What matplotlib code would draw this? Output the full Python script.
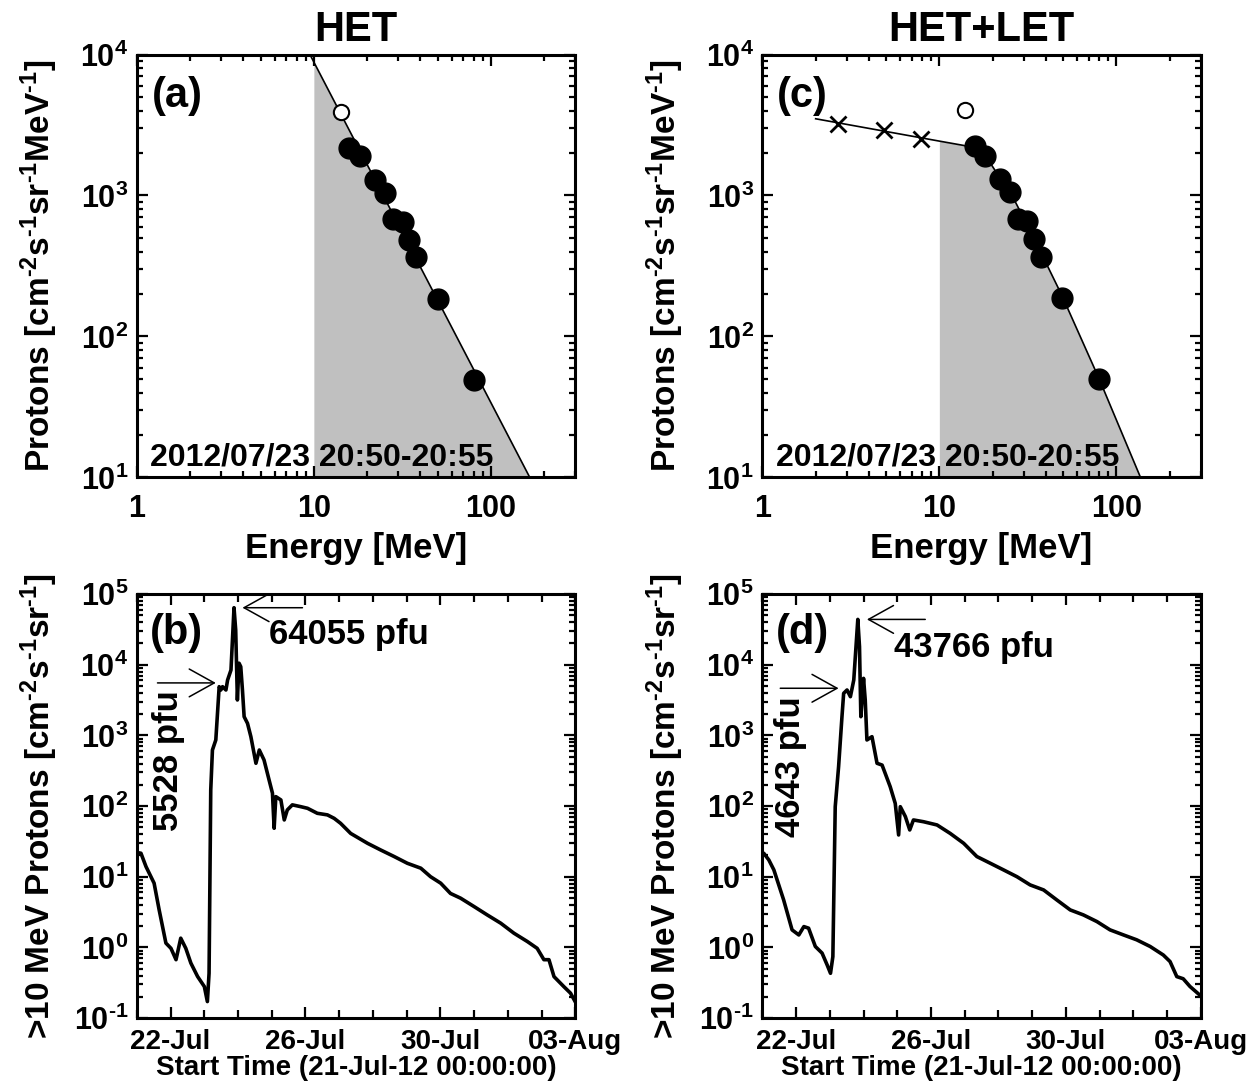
import numpy as np
import matplotlib
matplotlib.use('Agg')
import matplotlib.pyplot as plt
from matplotlib.ticker import LogLocator, FixedLocator, FuncFormatter, NullFormatter, MultipleLocator

plt.rcParams['font.family'] = ['Liberation Sans', 'DejaVu Sans']
plt.rcParams['font.weight'] = 'bold'
plt.rcParams['axes.labelweight'] = 'bold'
plt.rcParams['axes.titleweight'] = 'bold'
plt.rcParams['mathtext.fontset'] = 'custom'
plt.rcParams['mathtext.rm'] = 'Liberation Sans:bold'
plt.rcParams['mathtext.bf'] = 'Liberation Sans:bold'
plt.rcParams['mathtext.it'] = 'Liberation Sans:bold:italic'
plt.rcParams['mathtext.default'] = 'bf'

HY = '\u2010'  # short hyphen for exponents, like the original plot

# ---- spectra (a) HET ----
het_E = [15.8, 18.2, 22.3, 25.3, 28.1, 32.0, 34.6, 38.0, 50.0, 80.5]
het_J = [2180, 1890, 1290, 1040, 676, 647, 480, 365, 185, 48.7]
het_open_E = [14.2]
het_open_J = [3900]
fit_a_E = [9.5, 166.0]
fit_a_J = [1.0e4, 10.0]
fill_a_E = [10.0, 166.0]
fill_a_J = [8840, 10.0]

# ---- spectra (c) HET+LET ----
let_E = [2.66, 4.89, 7.88]
let_J = [3240, 2890, 2520]
hl_E = [16.0, 18.0, 22.1, 25.2, 27.7, 31.3, 34.4, 37.5, 49.3, 79.4]
hl_J = [2240, 1920, 1310, 1050, 684, 658, 488, 367, 188, 49.5]
hl_open_E = [14.0]
hl_open_J = [4010]
fit_c_E = [2.0, 10.0, 13.7, 16.0, 19.4, 22.0, 26.3, 35.0, 49.3, 80.0, 137.0]
fit_c_J = [3500, 2430, 2265, 2150, 1700, 1330, 950, 470, 195, 50, 10]

# ---- >10 MeV integral flux, days since 21-Jul-12 00:00 ----
days_b = [0.0, 0.12, 0.27, 0.51, 0.66, 0.86, 1.01, 1.16, 1.30, 1.45, 1.60, 1.80, 2.00,
          2.09, 2.14, 2.19, 2.24, 2.34, 2.44, 2.49, 2.54, 2.64, 2.69, 2.79, 2.88, 2.93,
          2.98, 3.03, 3.08, 3.13, 3.18, 3.28, 3.38, 3.53, 3.63, 3.77, 3.92, 4.02, 4.07,
          4.12, 4.27, 4.37, 4.46, 4.61, 4.86, 5.06, 5.35, 5.65, 5.85, 6.04, 6.34, 6.84,
          7.23, 7.63, 8.02, 8.42, 8.71, 9.01, 9.30, 9.60, 10.0, 10.39, 10.79, 11.18,
          11.58, 11.87, 12.07, 12.22, 12.37, 12.66, 12.86, 13.0]
flux_b = [22, 21.5, 13.9, 8.1, 3.39, 1.15, 0.97, 0.67, 1.35, 0.97, 0.60, 0.387, 0.279,
          0.171, 0.43, 169, 621, 861, 4890, 4390, 4890, 4390, 6080, 8410, 64055, 31000,
          3170, 10500, 9370, 4390, 1840, 1480, 959, 403, 621, 449, 234, 152, 48.5,
          136, 122, 63.6, 88, 104, 98, 93, 79, 75, 67, 57, 41, 29.7,
          23.9, 19.3, 15.5, 13.2, 10.0, 8.1, 5.8, 4.97, 3.78, 2.88, 2.2, 1.59,
          1.21, 0.97, 0.67, 0.67, 0.386, 0.279, 0.225, 0.17]

days_d = [0.0, 0.04, 0.19, 0.34, 0.63, 0.88, 1.08, 1.23, 1.37, 1.57, 1.77, 1.92, 2.02,
          2.09, 2.16, 2.26, 2.36, 2.41, 2.51, 2.61, 2.71, 2.83, 2.88, 2.92, 3.00, 3.05,
          3.10, 3.25, 3.40, 3.55, 3.79, 3.94, 4.04, 4.09, 4.24, 4.37, 4.48, 4.78, 5.18,
          5.57, 5.97, 6.36, 6.76, 7.15, 7.55, 7.94, 8.34, 8.73, 9.13, 9.52, 9.92, 10.31,
          10.71, 11.10, 11.50, 11.89, 12.09, 12.29, 12.48, 12.68, 12.98]
flux_d = [20, 21.5, 17.3, 12.5, 4.7, 1.77, 1.50, 1.97, 1.87, 1.03, 0.83, 0.565, 0.43,
          0.74, 98, 361, 1840, 3940, 4390, 3530, 6080, 43766, 18000, 1840, 6410, 3170,
          861, 959, 403, 380, 188, 109, 39, 98, 71, 45.9, 63.6, 60, 54,
          41, 29.7, 19.3, 15.5, 12.5, 10.0, 7.66, 6.5, 4.7, 3.39, 2.88, 2.32, 1.77,
          1.50, 1.28, 1.03, 0.78, 0.63, 0.386, 0.36, 0.28, 0.21]

date_ticks = [1, 5, 9, 13]
date_labels = ['22-Jul', '26-Jul', '30-Jul', '03-Aug']

GRAY = '#c0c0c0'


def pow10_label(v, pos):
    n = int(round(np.log10(v)))
    return r'$10^{%s}$' % str(n).replace('-', HY)


def style_axis(ax):
    for s in ax.spines.values():
        s.set_linewidth(2.2)
    ax.tick_params(which='both', direction='in', top=True, right=True, width=1.6, labelsize=22)
    ax.tick_params(which='major', length=8)
    ax.tick_params(which='minor', length=4)
    ax.tick_params(axis='y', which='both', pad=6)


def spectrum_axis(ax):
    ax.set_xscale('log')
    ax.set_yscale('log')
    ax.set_xlim(1, 300)
    ax.set_ylim(10, 1e4)
    ax.xaxis.set_major_locator(FixedLocator([1, 10, 100]))
    ax.xaxis.set_minor_locator(LogLocator(base=10, subs=np.arange(2, 10)))
    ax.xaxis.set_major_formatter(FuncFormatter(lambda v, p: '%d' % v))
    ax.xaxis.set_minor_formatter(NullFormatter())
    ax.yaxis.set_major_locator(FixedLocator([10, 100, 1000, 10000]))
    ax.yaxis.set_minor_locator(LogLocator(base=10, subs=np.arange(2, 10)))
    ax.yaxis.set_major_formatter(FuncFormatter(pow10_label))
    ax.yaxis.set_minor_formatter(NullFormatter())
    style_axis(ax)
    ax.tick_params(axis='x', which='both', pad=12)
    ax.set_xlabel('Energy [MeV]', fontsize=25, labelpad=6)
    ax.set_ylabel(r'Protons [cm$^{%s2}$s$^{%s1}$sr$^{%s1}$MeV$^{%s1}$]' % (HY, HY, HY, HY), fontsize=24)
    ax.yaxis.set_label_coords(-0.175, 0.5)
    ax.text(0.03, 0.028, '2012/07/23 20:50-20:55', transform=ax.transAxes,
            fontsize=23, ha='left', va='baseline', zorder=5)


def flux_axis(ax):
    ax.set_yscale('log')
    ax.set_xlim(0, 13)
    ax.set_ylim(0.1, 1e5)
    ax.xaxis.set_major_locator(FixedLocator(date_ticks))
    ax.xaxis.set_major_formatter(FuncFormatter(lambda v, p: date_labels[date_ticks.index(int(round(v)))]))
    ax.xaxis.set_minor_locator(MultipleLocator(1))
    ax.yaxis.set_major_locator(FixedLocator([0.1, 1, 10, 100, 1e3, 1e4, 1e5]))
    ax.yaxis.set_minor_locator(LogLocator(base=10, subs=np.arange(2, 10)))
    ax.yaxis.set_major_formatter(FuncFormatter(pow10_label))
    ax.yaxis.set_minor_formatter(NullFormatter())
    style_axis(ax)
    ax.tick_params(axis='x', which='both', pad=8, labelsize=20)
    ax.tick_params(axis='x', which='minor', length=6)
    ax.set_xlabel('Start Time (21-Jul-12 00:00:00)', fontsize=20, labelpad=0)
    ax.set_ylabel(r'>10 MeV Protons [cm$^{%s2}$s$^{%s1}$sr$^{%s1}$]' % (HY, HY, HY), fontsize=24)
    ax.yaxis.set_label_coords(-0.175, 0.5)


fig = plt.figure(figsize=(12.56, 10.9), dpi=100)
ax_a = fig.add_axes([0.109, 0.562, 0.349, 0.388])
ax_c = fig.add_axes([0.607, 0.562, 0.349, 0.388])
ax_b = fig.add_axes([0.109, 0.066, 0.349, 0.389])
ax_d = fig.add_axes([0.607, 0.066, 0.349, 0.389])

# (a)
spectrum_axis(ax_a)
ax_a.fill_between(fill_a_E, fill_a_J, 10, color=GRAY, lw=0, zorder=1)
ax_a.plot(fit_a_E, fit_a_J, color='black', lw=1.2, zorder=2)
ax_a.plot(het_E, het_J, 'o', color='black', ms=15, zorder=3)
ax_a.plot(het_open_E, het_open_J, 'o', mfc='white', mec='black', ms=11, mew=1.5, zorder=3)
ax_a.text(0.034, 0.95, '(a)', transform=ax_a.transAxes, fontsize=30, ha='left', va='top')
ax_a.set_title('HET', fontsize=30, pad=10)

# (c)
spectrum_axis(ax_c)
fe = [e for e in fit_c_E if e >= 10]
fj = [j for e, j in zip(fit_c_E, fit_c_J) if e >= 10]
ax_c.fill_between(fe, fj, 10, color=GRAY, lw=0, zorder=1)
ax_c.plot(fit_c_E, fit_c_J, color='black', lw=1.2, zorder=2)
ax_c.plot(let_E, let_J, 'x', color='black', ms=11, mew=2, zorder=3)
ax_c.plot(hl_E, hl_J, 'o', color='black', ms=15, zorder=3)
ax_c.plot(hl_open_E, hl_open_J, 'o', mfc='white', mec='black', ms=11, mew=1.5, zorder=3)
ax_c.text(0.034, 0.95, '(c)', transform=ax_c.transAxes, fontsize=30, ha='left', va='top')
ax_c.set_title('HET+LET', fontsize=30, pad=10)

arrow = dict(arrowstyle='->,head_length=0.9,head_width=0.5', lw=1.1, color='black',
             mutation_scale=20, shrinkA=0, shrinkB=0)

# (b)
flux_axis(ax_b)
ax_b.plot(days_b, flux_b, color='black', lw=2.6, zorder=2)
ax_b.text(0.03, 0.955, '(b)', transform=ax_b.transAxes, fontsize=30, ha='left', va='top')
ax_b.annotate('', xy=(3.13, 64055), xytext=(4.91, 64055), arrowprops=arrow)
ax_b.text(3.91, 27200, '64055 pfu', fontsize=25, ha='left', va='center')
ax_b.annotate('', xy=(2.34, 5528), xytext=(0.61, 5528), arrowprops=arrow)
ax_b.text(0.95, 435, '5528 pfu', fontsize=25, ha='center', va='center', rotation=90)

# (d)
flux_axis(ax_d)
ax_d.plot(days_d, flux_d, color='black', lw=2.6, zorder=2)
ax_d.text(0.03, 0.955, '(d)', transform=ax_d.transAxes, fontsize=30, ha='left', va='top')
ax_d.annotate('', xy=(3.10, 43766), xytext=(4.83, 43766), arrowprops=arrow)
ax_d.text(3.89, 17800, '43766 pfu', fontsize=25, ha='left', va='center')
ax_d.annotate('', xy=(2.26, 4643), xytext=(0.53, 4643), arrowprops=arrow)
ax_d.text(0.83, 357, '4643 pfu', fontsize=25, ha='center', va='center', rotation=90)

fig.savefig('out.png', dpi=100)
